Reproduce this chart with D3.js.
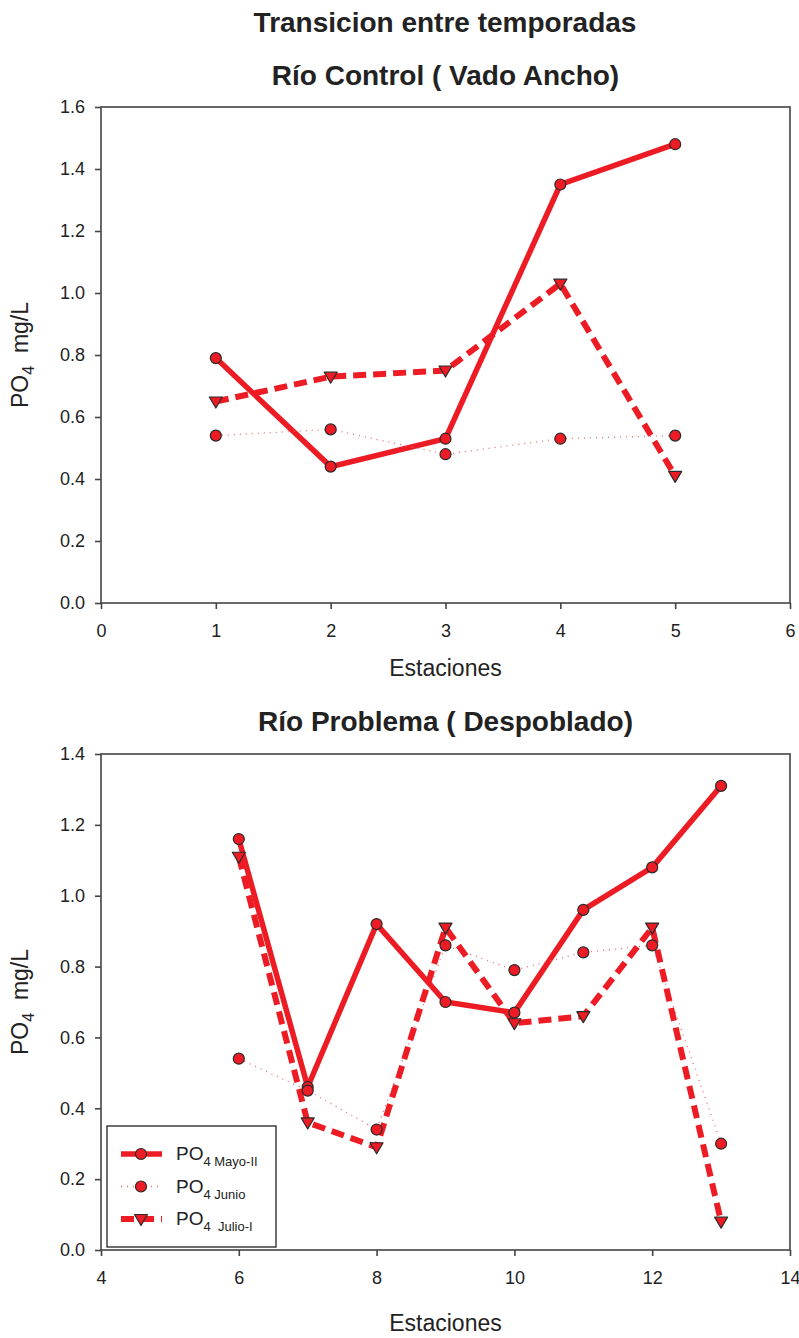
<!DOCTYPE html>
<html>
<head>
<meta charset="utf-8">
<script src="https://cdn.jsdelivr.net/npm/d3@7"></script>
<style>
  html, body { margin: 0; padding: 0; background: #fff; }
  svg { display: block; font-family: "Liberation Sans", Arial, sans-serif; }
</style>
</head>
<body>
<svg id="chart" width="799" height="1338"></svg>
<script>
// Stations and PO4 concentrations (mg/L) per sampling period
const controlStations = [1, 2, 3, 4, 5];
const controlMayo  = [0.79, 0.44, 0.53, 1.35, 1.48];
const controlJunio = [0.54, 0.56, 0.48, 0.53, 0.54];
const controlJulio = [0.65, 0.73, 0.75, 1.03, 0.41];

const problemaStations = [6, 7, 8, 9, 10, 11, 12, 13];
const problemaMayo  = [1.16, 0.46, 0.92, 0.70, 0.67, 0.96, 1.08, 1.31];
const problemaJunio = [0.54, 0.45, 0.34, 0.86, 0.79, 0.84, 0.86, 0.30];
const problemaJulio = [1.11, 0.36, 0.29, 0.91, 0.64, 0.66, 0.91, 0.08];

const controlXTicks = [0, 1, 2, 3, 4, 5, 6];
const controlYTicks = [0.0, 0.2, 0.4, 0.6, 0.8, 1.0, 1.2, 1.4, 1.6];
const problemaXTicks = [4, 6, 8, 10, 12, 14];
const problemaYTicks = [0.0, 0.2, 0.4, 0.6, 0.8, 1.0, 1.2, 1.4];

const legendLabels = ["Mayo-II", "Junio", "Julio-I"];

const RED = "#ed1c24";
const FRAME = "#444";
const svg = d3.select("#chart");

// Series styles: solid, sparse dotted, heavy dashed
const styles = [
  { width: 5.5, dash: null, color: RED, marker: "circle" },
  { width: 1.3, dash: "1,5", color: "#e96a6e", marker: "circle" },
  { width: 6, dash: "13,7", color: RED, marker: "triangle" }
];

function drawMarker(g, type, x, y) {
  if (type === "circle") {
    g.append("circle").attr("cx", x).attr("cy", y).attr("r", 5.5)
      .attr("fill", RED).attr("stroke", "#2a2a2a").attr("stroke-width", 1.2);
  } else {
    g.append("path")
      .attr("d", `M${x - 6.5},${y - 4.5}L${x + 6.5},${y - 4.5}L${x},${y + 6.5}Z`)
      .attr("fill", RED).attr("stroke", "#2a2a2a").attr("stroke-width", 1.2)
      .attr("stroke-linejoin", "round");
  }
}

function panel(opts) {
  const { left, right, top, bottom, xDomain, yDomain, xTicks, yTicks, yFmt,
          stations, series, title, titleY, xLabelY } = opts;
  const x = d3.scaleLinear().domain(xDomain).range([left, right]);
  const y = d3.scaleLinear().domain(yDomain).range([bottom, top]);
  const g = svg.append("g");

  // frame
  g.append("rect").attr("x", left).attr("y", top)
    .attr("width", right - left).attr("height", bottom - top)
    .attr("fill", "none").attr("stroke", FRAME).attr("stroke-width", 1.6);

  const xAxis = g.append("g").attr("transform", `translate(0,${bottom})`)
    .call(d3.axisBottom(x).tickValues(xTicks).tickSize(6).tickPadding(15).tickFormat(d3.format("d")));
  const yAxis = g.append("g").attr("transform", `translate(${left},0)`)
    .call(d3.axisLeft(y).tickValues(yTicks).tickSize(6).tickPadding(10).tickFormat(d3.format(yFmt)));
  [xAxis, yAxis].forEach(a => {
    a.select(".domain").remove();
    a.selectAll(".tick line").attr("stroke", FRAME).attr("stroke-width", 1.6);
    a.selectAll(".tick text").attr("fill", "#222").style("font-size", "18px");
  });

  // lines
  const line = d3.line().x((d, i) => x(stations[i])).y(d => y(d));
  series.forEach((vals, k) => {
    const s = styles[k];
    g.append("path").datum(vals).attr("d", line)
      .attr("fill", "none").attr("stroke", s.color).attr("stroke-width", s.width)
      .attr("stroke-dasharray", s.dash).attr("stroke-linejoin", "miter");
  });
  // markers
  series.forEach((vals, k) => {
    vals.forEach((v, i) => drawMarker(g, styles[k].marker, x(stations[i]), y(v)));
  });

  // titles and axis labels
  const cx = (left + right) / 2;
  g.append("text").attr("x", cx).attr("y", titleY).attr("text-anchor", "middle")
    .style("font-size", "28px").style("font-weight", "bold").attr("fill", "#222").text(title);
  g.append("text").attr("x", cx).attr("y", xLabelY).attr("text-anchor", "middle")
    .style("font-size", "23px").attr("fill", "#222").text("Estaciones");
  const cy = (top + bottom) / 2;
  const yl = g.append("text").attr("transform", `translate(28,${cy}) rotate(-90)`)
    .attr("text-anchor", "middle").style("font-size", "23px").attr("fill", "#222");
  yl.append("tspan").text("PO");
  yl.append("tspan").attr("dy", 6).style("font-size", "16px").text("4");
  yl.append("tspan").attr("dy", -6).attr("xml:space", "preserve").text("\u00a0 mg/L");
  return { x, y, g };
}

svg.append("text").attr("x", 445).attr("y", 32).attr("text-anchor", "middle")
  .style("font-size", "28px").style("font-weight", "bold").attr("fill", "#222")
  .text("Transicion entre temporadas");

panel({
  left: 101, right: 790, top: 107, bottom: 603,
  xDomain: [0, 6], yDomain: [0, 1.6], xTicks: controlXTicks, yTicks: controlYTicks, yFmt: ".1f",
  stations: controlStations, series: [controlMayo, controlJunio, controlJulio],
  title: "Río Control ( Vado Ancho)", titleY: 85, xLabelY: 676
});

panel({
  left: 101, right: 790, top: 754, bottom: 1250,
  xDomain: [4, 14], yDomain: [0, 1.4], xTicks: problemaXTicks, yTicks: problemaYTicks, yFmt: ".1f",
  stations: problemaStations, series: [problemaMayo, problemaJunio, problemaJulio],
  title: "Río Problema ( Despoblado)", titleY: 731, xLabelY: 1331
});

// legend
const lg = svg.append("g");
lg.append("rect").attr("x", 107).attr("y", 1126).attr("width", 169).attr("height", 121)
  .attr("fill", "#fff").attr("stroke", "#222").attr("stroke-width", 1.3);
legendLabels.forEach((lab, k) => {
  const yy = 1154 + k * 32.5;
  const s = styles[k];
  lg.append("line").attr("x1", 121).attr("x2", 162).attr("y1", yy).attr("y2", yy)
    .attr("stroke", s.color).attr("stroke-width", s.width).attr("stroke-dasharray", s.dash);
  drawMarker(lg, s.marker, 141, yy);
  const t = lg.append("text").attr("x", 176).attr("y", yy + 6).attr("fill", "#222")
    .style("font-size", "19px");
  t.append("tspan").text("PO");
  t.append("tspan").attr("dy", 6).style("font-size", "13px").text("4 " + (k === 2 ? "\u00a0" : "") + lab);
});
</script>
</body>
</html>
